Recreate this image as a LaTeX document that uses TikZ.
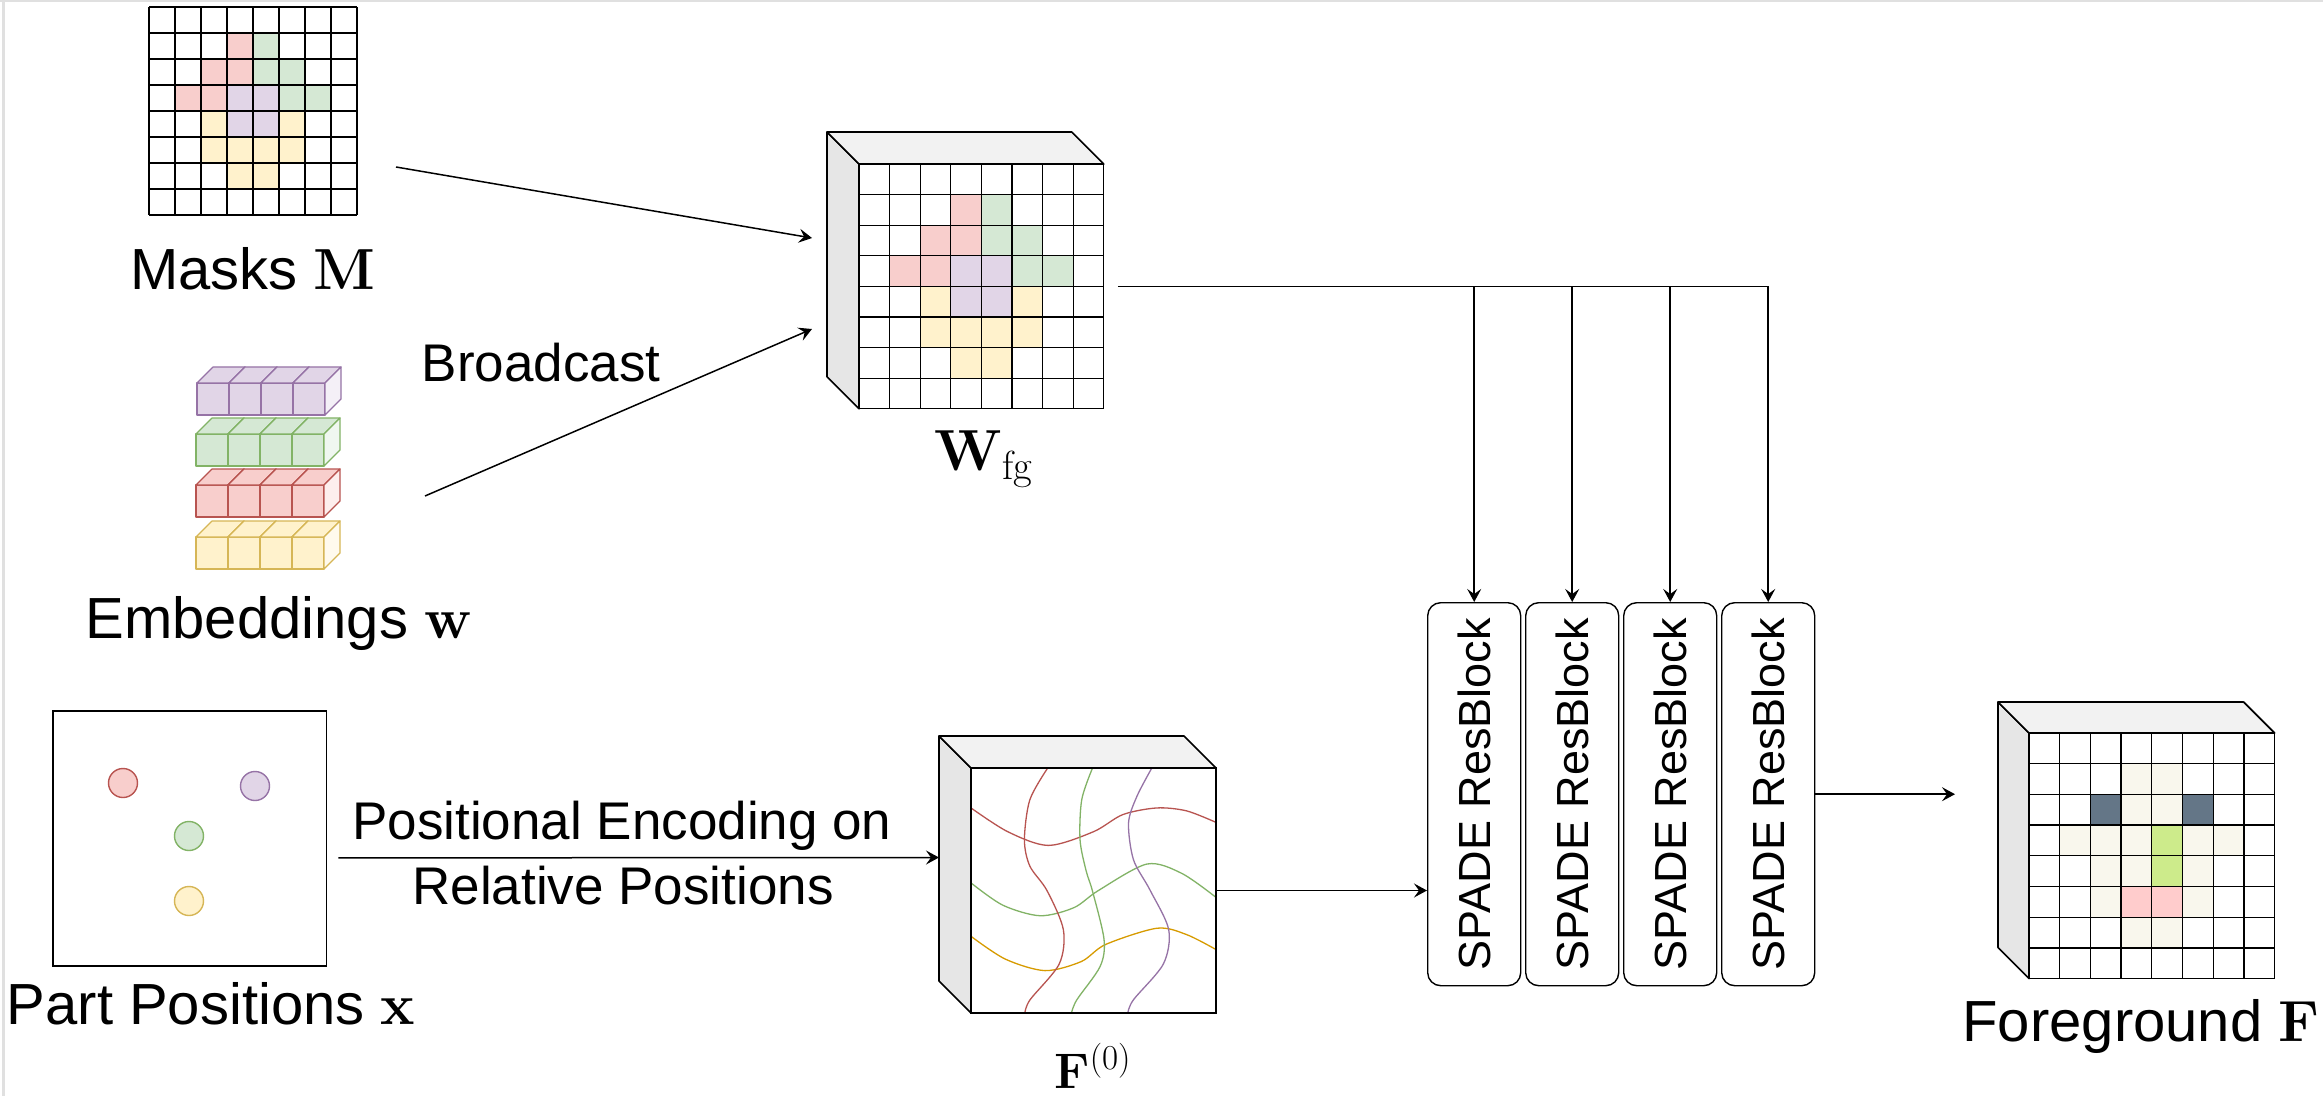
\RequirePackage{fix-cm}
\documentclass[tikz,border=0pt]{standalone}
\usepackage[no-math]{fontspec}
\setmainfont{Liberation Sans}
\usetikzlibrary{arrows.meta,calc}
\definecolor{redF}{HTML}{F8CECC}\definecolor{redS}{HTML}{B85450}
\definecolor{grnF}{HTML}{D5E8D4}\definecolor{grnS}{HTML}{82B366}
\definecolor{purF}{HTML}{E1D5E7}\definecolor{purS}{HTML}{9673A6}
\definecolor{yelF}{HTML}{FFF2CC}\definecolor{yelS}{HTML}{D6B656}
\definecolor{ornS}{HTML}{D79B00}
\definecolor{sideG}{HTML}{E6E6E6}\definecolor{topG}{HTML}{F2F2F2}
\definecolor{begF}{HTML}{F9F7ED}\definecolor{slateF}{HTML}{647687}
\definecolor{limeF}{HTML}{CDEB8B}\definecolor{pinkF}{HTML}{FFCCCC}
\tikzset{
  gridline/.style={line width=0.65pt, draw=black},
  cubeline/.style={line width=0.8pt, draw=black, line join=round},
  eline/.style={line width=0.6pt, line join=round},
  conn/.style={line width=0.75pt, -{Stealth[length=6.5pt,width=7pt,inset=2.5pt]}},
  plainline/.style={line width=0.75pt},
  lbl/.style={font=\fontsize{29}{34}\selectfont, inner sep=0pt, anchor=base},
  midlbl/.style={font=\fontsize{26.5}{31}\selectfont, inner sep=0pt, anchor=base},
  spadebox/.style={draw, rounded corners=6.5pt, line width=0.7pt, minimum width=46.5pt,
     minimum height=191.5pt, inner sep=0pt, anchor=north west, font=\fontsize{22.5}{27}\selectfont},
  dot/.style={circle, minimum size=14.5pt, inner sep=0pt, line width=0.7pt},
  curve/.style={line width=0.65pt},
  ghost/.style={inner sep=0pt, outer sep=0pt, anchor=north west}
}
\newcommand\gridcells[4]{%
  \foreach \rr/\cc/\kk in #4 {\fill[\kk] (#1+\cc*#3,#2+\rr*#3) rectangle ++(#3,#3);}
  \foreach \ii in {0,...,8} {
    \draw[gridline] (#1+\ii*#3,#2) -- ++(0,8*#3);
    \draw[gridline] (#1,#2+\ii*#3) -- ++(8*#3,0);}
}
\newcommand\cubeback[4]{%
  \filldraw[fill=sideG, cubeline] (#1,#2) -- ++(-#4,-#4) -- ++(0,#3) -- ++(#4,#4) -- cycle;
  \filldraw[fill=topG, cubeline] (#1,#2) -- ++(-#4,-#4) -- ++(#3,0) -- ++(#4,#4) -- cycle;
}
\newcommand\ecube[4]{%
  \filldraw[fill=#3, draw=#4, eline] (#1,#2) rectangle ++(32,32);
  \filldraw[fill=#3, draw=#4, eline] (#1,#2) -- ++(16,-16) -- ++(32,0) -- ++(-16,16) -- cycle;
  \filldraw[fill=#3!35!white, draw=#4, eline] (#1+32,#2) -- ++(16,-16) -- ++(0,32) -- ++(-16,16) -- cycle;
}
\def\maskcells{1/3/redF,1/4/grnF,2/2/redF,2/3/redF,2/4/grnF,2/5/grnF,3/1/redF,3/2/redF,3/3/purF,3/4/purF,3/5/grnF,3/6/grnF,4/2/yelF,4/3/purF,4/4/purF,4/5/yelF,5/2/yelF,5/3/yelF,5/4/yelF,5/5/yelF,6/3/yelF,6/4/yelF}
\def\fgcells{1/3/begF,1/4/begF,2/2/slateF,2/3/begF,2/4/begF,2/5/slateF,3/1/begF,3/2/begF,3/3/begF,3/4/limeF,3/5/begF,3/6/begF,4/2/begF,4/3/begF,4/4/limeF,4/5/begF,5/2/begF,5/3/pinkF,5/4/pinkF,5/5/begF,6/3/begF,6/4/begF}
\begin{document}
\begin{tikzpicture}[x=0.5pt,y=-0.5pt]
\useasboundingbox (0,0) rectangle (2323,1096);
\fill[white] (0,0) rectangle (2323,1096);
% faint frame of the screenshot
\draw[black!12, line width=1.2pt] (0,1) -- (2323,1);
\draw[black!12, line width=1.5pt] (3,0) -- (3,1096);

% ---------- Masks grid ----------
\node[ghost, minimum width=104pt, minimum height=104pt] (masks) at (149,7) {};
\gridcells{149}{7}{26}{\maskcells}
\node[lbl] (lmask) at (253,290) {Masks $\mathbf{M}$};

% ---------- Embeddings ----------
\node[ghost, minimum width=73pt, minimum height=100pt] (emb) at (196,367) {};
\foreach \i in {0,...,3} {\ecube{197+32*\i}{383}{purF}{purS}}
\foreach \i in {0,...,3} {\ecube{196+32*\i}{434}{grnF}{grnS}}
\foreach \i in {0,...,3} {\ecube{196+32*\i}{485}{redF}{redS}}
\foreach \i in {0,...,3} {\ecube{196+32*\i}{537}{yelF}{yelS}}
\node[lbl] (lemb) at (279,638) {Embeddings $\mathbf{w}$};

\node[midlbl] (lbc) at (541,382) {Broadcast};

% ---------- W_fg cube ----------
\node[ghost, minimum width=138.4pt, minimum height=138.4pt] (wfgall) at (827,132) {};
\cubeback{859}{164}{244.8}{32}
\node[ghost, fill=white, minimum width=122.4pt, minimum height=122.4pt] (wfg) at (859,164) {};
\gridcells{859}{164}{30.6}{\maskcells}
\node[lbl] (lwfg) at (984,471) {$\mathbf{W}_{\mathrm{fg}}$};

% ---------- Part positions ----------
\node[draw, line width=0.8pt, ghost, minimum width=136.7pt, minimum height=127.4pt] (pp) at (53,711) {};
\node[dot, fill=redF, draw=redS] (c1) at (123,783) {};
\node[dot, fill=purF, draw=purS] (c2) at (255,786) {};
\node[dot, fill=grnF, draw=grnS] (c3) at (189,836) {};
\node[dot, fill=yelF, draw=yelS] (c4) at (189,901) {};
\node[lbl] (lpp) at (211,1024) {Part Positions $\mathbf{x}$};

\node[midlbl] (lpe1) at (622,839) {Positional Encoding on};
\node[midlbl] (lpe2) at (623,904) {Relative Positions};

% ---------- F(0) cube ----------
\node[ghost, minimum width=138.5pt, minimum height=138.5pt] (f0all) at (939,736) {};
\cubeback{971}{768}{245}{32}
\node[ghost, draw, line width=0.8pt, fill=white, minimum width=122.5pt, minimum height=122.5pt] (f0) at (971,768) {};
\begin{scope}[shift={(971,768)}, x=122.5pt, y=-122.5pt]
  \clip (0,0) rectangle (1,1);
  \draw[redS, curve] plot[smooth] coordinates {(0,0.163) (0.15,0.26) (0.316,0.316) (0.50,0.26) (0.62,0.19) (0.759,0.163) (0.88,0.175) (1,0.222)};
  \draw[grnS, curve] plot[smooth] coordinates {(0,0.469) (0.13,0.56) (0.282,0.603) (0.42,0.57) (0.52,0.5) (0.718,0.392) (0.86,0.43) (1,0.528)};
  \draw[ornS, curve] plot[smooth] coordinates {(0,0.687) (0.14,0.78) (0.302,0.827) (0.45,0.79) (0.55,0.72) (0.759,0.654) (0.88,0.68) (1,0.741)};
  \draw[redS, curve] plot[smooth] coordinates {(0.313,0) (0.24,0.13) (0.218,0.293) (0.24,0.40) (0.31,0.50) (0.377,0.66) (0.36,0.80) (0.241,0.946) (0.22,1)};
  \draw[grnS, curve] plot[smooth] coordinates {(0.496,0) (0.452,0.129) (0.445,0.293) (0.47,0.42) (0.496,0.503) (0.543,0.70) (0.527,0.81) (0.432,0.946) (0.41,1)};
  \draw[purS, curve] plot[smooth] coordinates {(0.738,0) (0.677,0.116) (0.643,0.224) (0.663,0.374) (0.73,0.497) (0.807,0.66) (0.785,0.80) (0.663,0.946) (0.64,1)};
\end{scope}
\draw[line width=0.8pt] (f0.north west) rectangle (f0.south east);
\node[lbl, font=\fontsize{25}{30}\selectfont] (lf0) at (1093,1088) {$\mathbf{F}^{(0)}$};

% ---------- SPADE blocks ----------
\node[spadebox] (s1) at (1427,602) {\rotatebox{90}{SPADE ResBlock}};
\node[spadebox] (s2) at (1525,602) {\rotatebox{90}{SPADE ResBlock}};
\node[spadebox] (s3) at (1623,602) {\rotatebox{90}{SPADE ResBlock}};
\node[spadebox] (s4) at (1721,602) {\rotatebox{90}{SPADE ResBlock}};

% ---------- Foreground cube ----------
\node[ghost, minimum width=138.3pt, minimum height=138.3pt] (fgall) at (1998,702) {};
\cubeback{2029}{733}{245.6}{31}
\node[ghost, fill=white, minimum width=122.8pt, minimum height=122.8pt] (fg) at (2029,733) {};
\gridcells{2029}{733}{30.7}{\fgcells}
\node[lbl] (lfg) at (2141,1041) {Foreground $\mathbf{F}$};

% ---------- connectors ----------
\coordinate (ma) at (396,167);
\coordinate (ba) at (425,496);
\draw[conn] (ma) -- ([xshift=-7.5pt,yshift=16.2pt]wfgall.west);
\draw[conn] (ba) -- ([xshift=-7.5pt,yshift=-29.3pt]wfgall.west);
\coordinate (wo) at ([xshift=7pt]wfg.east);
\draw[plainline] (wo) -- (wo -| s4.north);
\foreach \s in {s1,s2,s3,s4} {\draw[conn] (wo -| \s.north) -- (\s.north);}
\draw[conn] ([xshift=6pt,yshift=-9.75pt]pp.east) -- ([yshift=8.5pt]f0all.west);
\draw[conn] (f0.east) -- (f0.east -| s1.west);
\coordinate (fgin) at ([xshift=-21.5pt]fgall.west);
\draw[conn] (s4.east) -- (s4.east -| fgin);
\end{tikzpicture}
\end{document}
